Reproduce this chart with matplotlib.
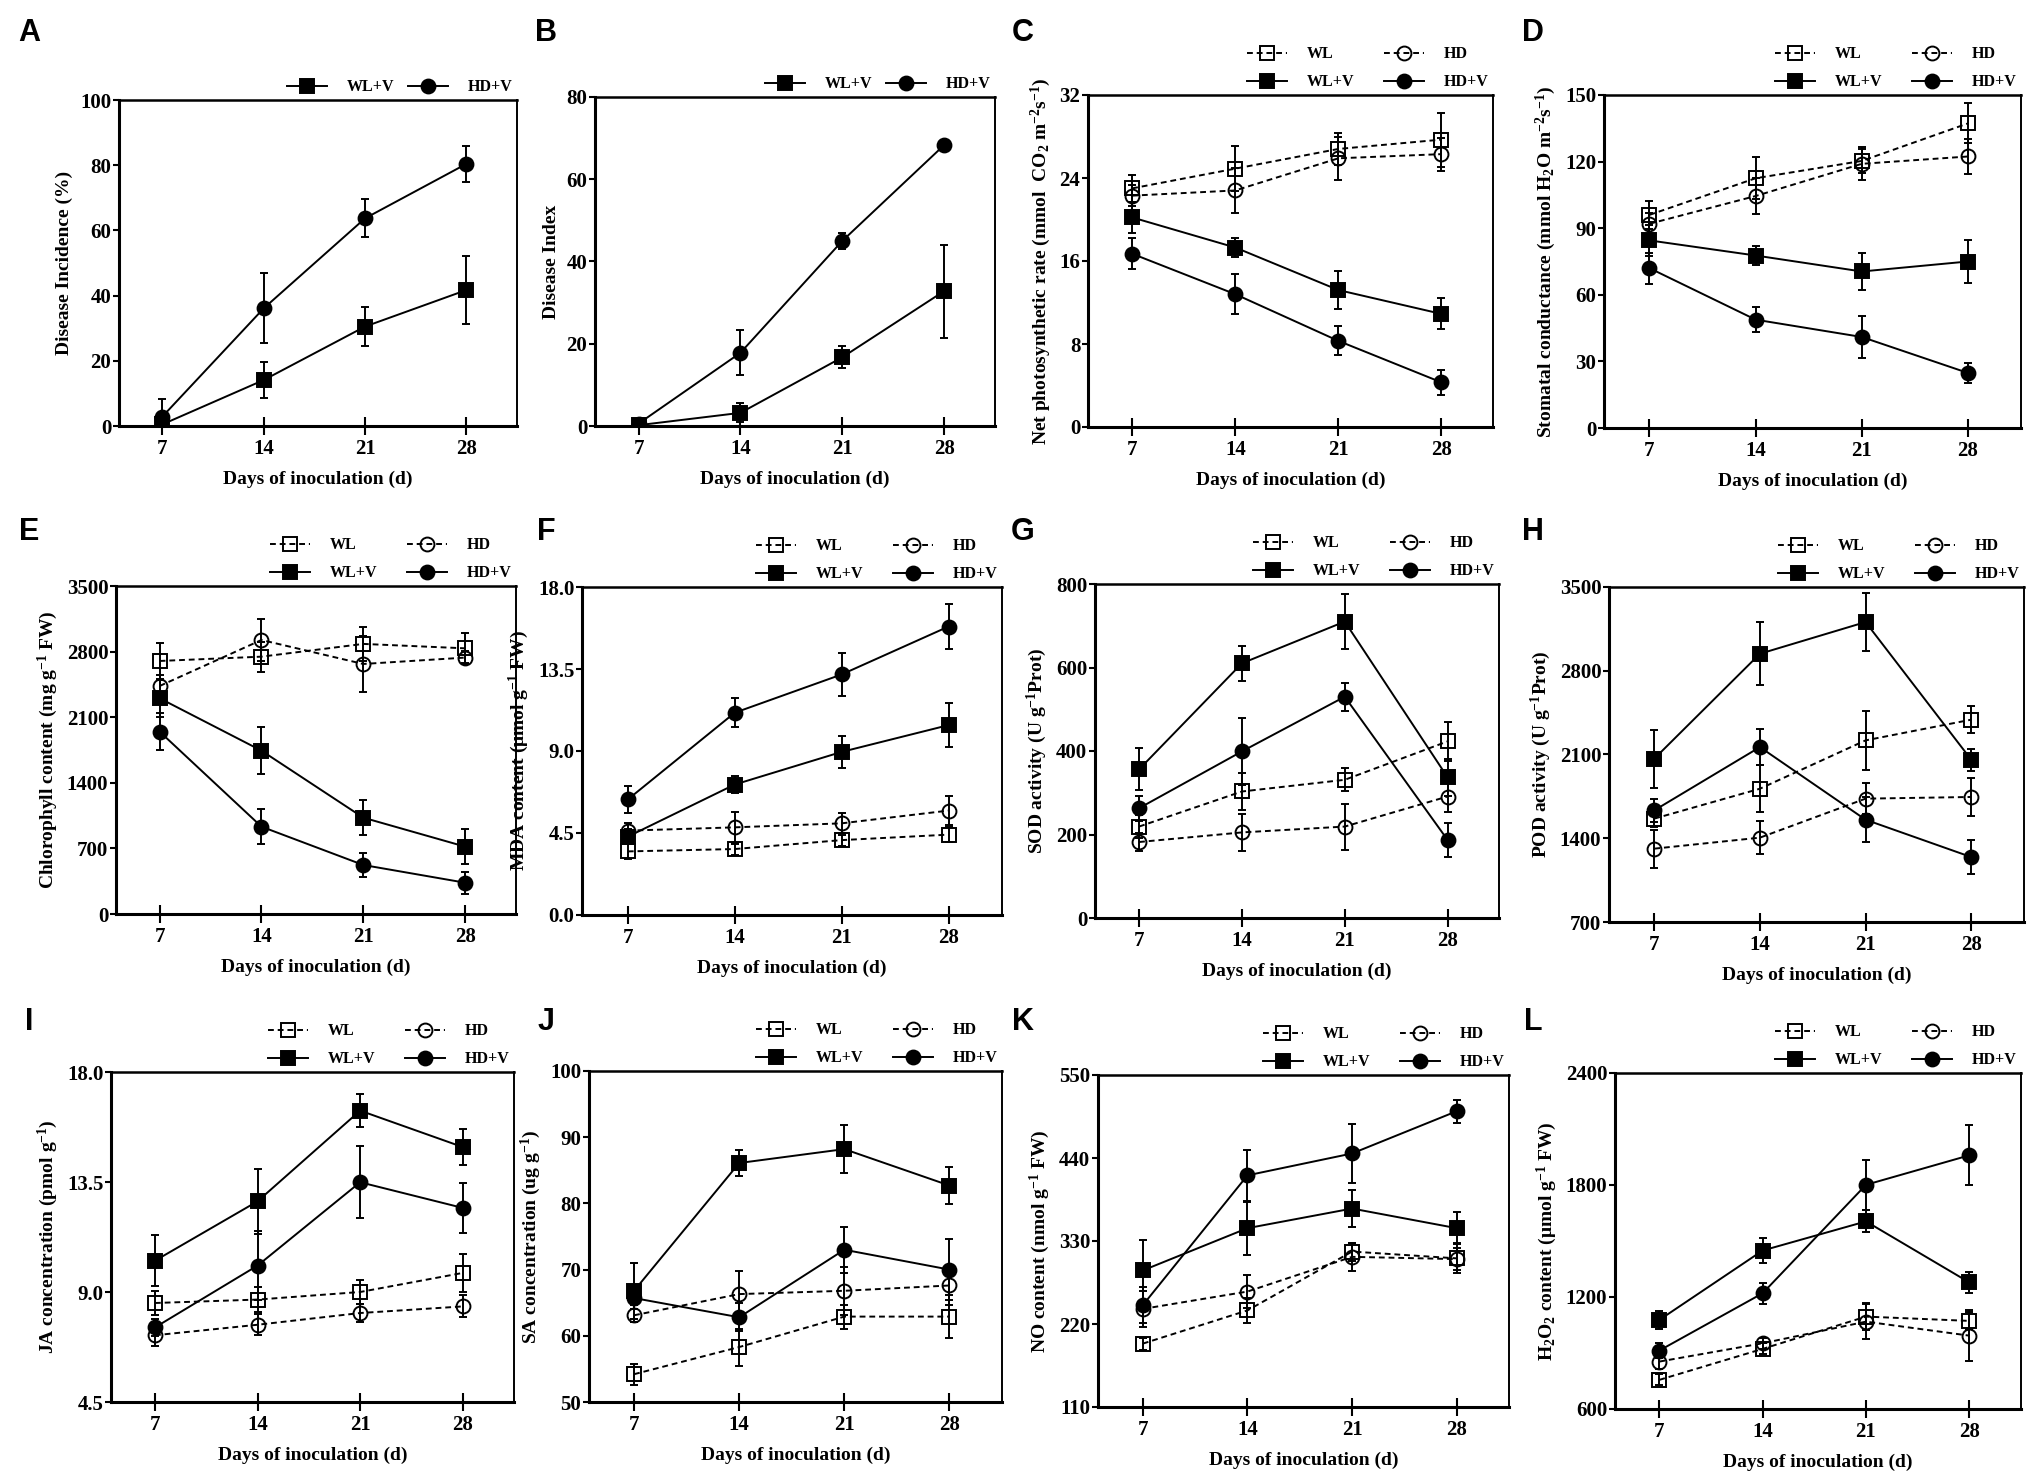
import matplotlib
matplotlib.use("Agg")
import matplotlib.pyplot as plt

plt.rcParams['font.family'] = 'Liberation Serif'
plt.rcParams['font.weight'] = 'bold'
plt.rcParams['axes.labelweight'] = 'bold'
plt.rcParams['mathtext.fontset'] = 'custom'
plt.rcParams['mathtext.rm'] = 'Liberation Serif:bold'
plt.rcParams['mathtext.it'] = 'Liberation Serif:bold'
plt.rcParams['mathtext.bf'] = 'Liberation Serif:bold'

days = [7, 14, 21, 28]

# A - disease incidence (%)
inc_wlv = [0.5, 14.1, 30.5, 41.7]
inc_wlv_sd = [0.5, 5.5, 6.0, 10.5]
inc_hdv = [2.9, 36.1, 63.7, 80.4]
inc_hdv_sd = [5.5, 10.7, 5.8, 5.6]

# B - disease index
idx_wlv = [0.2, 3.2, 16.7, 32.8]
idx_wlv_sd = [0.3, 2.3, 2.7, 11.3]
idx_hdv = [0.6, 17.8, 45.0, 68.3]
idx_hdv_sd = [0.5, 5.5, 2.0, 0.5]

# C - net photosynthetic rate
pn_wl = [23.0, 24.9, 26.8, 27.7]
pn_wl_sd = [1.3, 2.2, 1.5, 2.6]
pn_hd = [22.3, 22.8, 25.9, 26.3]
pn_hd_sd = [1.0, 2.2, 2.1, 1.6]
pn_wlv = [20.2, 17.3, 13.2, 10.9]
pn_wlv_sd = [1.5, 0.9, 1.8, 1.5]
pn_hdv = [16.7, 12.8, 8.3, 4.3]
pn_hdv_sd = [1.5, 1.9, 1.4, 1.2]

# D - stomatal conductance
gs_wl = [96.0, 112.5, 120.3, 137.2]
gs_wl_sd = [6.3, 9.5, 5.4, 9.0]
gs_hd = [92.0, 104.5, 119.0, 122.3]
gs_hd_sd = [5.0, 8.2, 7.5, 7.8]
gs_wlv = [84.5, 77.7, 70.5, 75.0]
gs_wlv_sd = [7.0, 4.5, 8.3, 9.8]
gs_hdv = [72.0, 48.8, 41.0, 24.8]
gs_hdv_sd = [7.0, 5.5, 9.6, 4.5]

# E - chlorophyll
chl_wl = [2700, 2746, 2882, 2835]
chl_wl_sd = [190, 160, 177, 160]
chl_hd = [2433, 2924, 2668, 2736]
chl_hd_sd = [120, 220, 300, 70]
chl_wlv = [2302, 1743, 1028, 719]
chl_wlv_sd = [200, 250, 189, 185]
chl_hdv = [1946, 932, 523, 334]
chl_hdv_sd = [196, 189, 125, 118]

# F - MDA
mda_wl = [3.49, 3.62, 4.11, 4.41]
mda_wl_sd = [0.4, 0.3, 0.3, 0.4]
mda_hd = [4.63, 4.81, 5.03, 5.73]
mda_hd_sd = [0.4, 0.85, 0.55, 0.8]
mda_wlv = [4.3, 7.16, 8.95, 10.42]
mda_wlv_sd = [0.4, 0.45, 0.9, 1.2]
mda_hdv = [6.34, 11.1, 13.2, 15.83]
mda_hdv_sd = [0.73, 0.8, 1.16, 1.25]

# G - SOD
sod_wl = [219, 303, 331, 423]
sod_wl_sd = [28, 45, 28, 46]
sod_hd = [182, 205, 219, 291]
sod_hd_sd = [22, 45, 55, 36]
sod_wlv = [356, 610, 710, 337]
sod_wlv_sd = [50, 42, 65, 45]
sod_hdv = [263, 399, 530, 187]
sod_hdv_sd = [30, 80, 34, 40]

# H - POD
pod_wl = [1564, 1814, 2218, 2391]
pod_wl_sd = [70, 195, 245, 111]
pod_hd = [1313, 1405, 1731, 1745]
pod_hd_sd = [160, 136, 131, 161]
pod_wlv = [2065, 2942, 3207, 2057]
pod_wlv_sd = [242, 265, 242, 92]
pod_hdv = [1633, 2162, 1555, 1243]
pod_hdv_sd = [98, 153, 187, 145]

# I - JA
ja_wl = [8.55, 8.69, 9.0, 9.78]
ja_wl_sd = [0.5, 0.5, 0.5, 0.77]
ja_hd = [7.23, 7.66, 8.14, 8.41]
ja_hd_sd = [0.45, 0.43, 0.35, 0.45]
ja_wlv = [10.28, 12.71, 16.42, 14.93]
ja_wlv_sd = [1.04, 1.34, 0.68, 0.75]
ja_hdv = [7.55, 10.08, 13.49, 12.44]
ja_hdv_sd = [0.35, 1.4, 1.47, 1.02]

# J - SA
sa_wl = [54.2, 58.3, 62.9, 62.9]
sa_wl_sd = [1.6, 2.8, 1.8, 3.3]
sa_hd = [63.1, 66.3, 66.8, 67.6]
sa_hd_sd = [1.0, 3.5, 3.6, 3.0]
sa_wlv = [66.8, 86.1, 88.2, 82.7]
sa_wlv_sd = [4.2, 2.0, 3.6, 2.8]
sa_hdv = [65.7, 62.8, 73.0, 70.0]
sa_hdv_sd = [1.0, 2.1, 3.5, 4.6]

# K - NO
no_wl = [194, 238, 316, 307]
no_wl_sd = [8, 17, 12, 20]
no_hd = [240, 263, 309, 306]
no_hd_sd = [24, 22, 19, 15]
no_wlv = [291, 347, 373, 347]
no_wlv_sd = [40, 35, 24, 21]
no_hdv = [245, 417, 446, 502]
no_hdv_sd = [24, 34, 39, 15]

# L - H2O2
h2o2_wl = [756, 922, 1095, 1072]
h2o2_wl_sd = [30, 30, 72, 46]
h2o2_hd = [854, 952, 1068, 993]
h2o2_hd_sd = [40, 30, 93, 136]
h2o2_wlv = [1077, 1449, 1605, 1278]
h2o2_wlv_sd = [48, 66, 59, 55]
h2o2_hdv = [913, 1220, 1801, 1959]
h2o2_hdv_sd = [40, 57, 134, 161]

yticks_a = [0, 20, 40, 60, 80, 100]
yticks_b = [0, 20, 40, 60, 80]
yticks_c = [0, 8, 16, 24, 32]
yticks_d = [0, 30, 60, 90, 120, 150]
yticks_e = [0, 700, 1400, 2100, 2800, 3500]
yticks_f = [0, 4.5, 9.0, 13.5, 18.0]
yticks_g = [0, 200, 400, 600, 800]
yticks_h = [700, 1400, 2100, 2800, 3500]
yticks_i = [4.5, 9.0, 13.5, 18.0]
yticks_j = [50, 60, 70, 80, 90, 100]
yticks_k = [110, 220, 330, 440, 550]
yticks_l = [600, 1200, 1800, 2400]

W, H = 2033, 1471
fig = plt.figure(figsize=(W / 100, H / 100), dpi=100)

styles = {
    'WL': dict(marker='s', mfc='none', ls=(0, (3, 2))),
    'HD': dict(marker='o', mfc='none', ls=(0, (3, 2))),
    'WL+V': dict(marker='s', mfc='black', ls='-'),
    'HD+V': dict(marker='o', mfc='black', ls='-'),
}

sup1 = r'$^{-1}$'
panels = [
    # letter, box (l, t, r, b) px, ylabel, yticks, fmt, series
    ('A', (119, 100, 517, 426), 'Disease Incidence (%)', yticks_a, '%d',
     [('WL+V', inc_wlv, inc_wlv_sd), ('HD+V', inc_hdv, inc_hdv_sd)]),
    ('B', (595, 97, 995, 426), 'Disease Index', yticks_b, '%d',
     [('WL+V', idx_wlv, idx_wlv_sd), ('HD+V', idx_hdv, idx_hdv_sd)]),
    ('C', (1088, 95, 1493, 427),
     r'Net photosynthetic rate (mmol  CO$_2$ m$^{-2}$s$^{-1}$)', yticks_c, '%d',
     [('WL', pn_wl, pn_wl_sd), ('WL+V', pn_wlv, pn_wlv_sd),
      ('HD', pn_hd, pn_hd_sd), ('HD+V', pn_hdv, pn_hdv_sd)]),
    ('D', (1604, 95, 2021, 428),
     r'Stomatal conductance (mmol H$_2$O m$^{-2}$s$^{-1}$)', yticks_d, '%d',
     [('WL', gs_wl, gs_wl_sd), ('WL+V', gs_wlv, gs_wlv_sd),
      ('HD', gs_hd, gs_hd_sd), ('HD+V', gs_hdv, gs_hdv_sd)]),
    ('E', (116, 586, 516, 914), 'Chlorophyll content (mg g' + sup1 + ' FW)', yticks_e, '%d',
     [('WL', chl_wl, chl_wl_sd), ('WL+V', chl_wlv, chl_wlv_sd),
      ('HD', chl_hd, chl_hd_sd), ('HD+V', chl_hdv, chl_hdv_sd)]),
    ('F', (582, 587, 1002, 915), 'MDA content (μmol g' + sup1 + ' FW)', yticks_f, '%.1f',
     [('WL', mda_wl, mda_wl_sd), ('WL+V', mda_wlv, mda_wlv_sd),
      ('HD', mda_hd, mda_hd_sd), ('HD+V', mda_hdv, mda_hdv_sd)]),
    ('G', (1095, 584, 1499, 918), 'SOD activity (U g' + sup1 + 'Prot)', yticks_g, '%d',
     [('WL', sod_wl, sod_wl_sd), ('WL+V', sod_wlv, sod_wlv_sd),
      ('HD', sod_hd, sod_hd_sd), ('HD+V', sod_hdv, sod_hdv_sd)]),
    ('H', (1609, 587, 2024, 922), 'POD activity (U g' + sup1 + 'Prot)', yticks_h, '%d',
     [('WL', pod_wl, pod_wl_sd), ('WL+V', pod_wlv, pod_wlv_sd),
      ('HD', pod_hd, pod_hd_sd), ('HD+V', pod_hdv, pod_hdv_sd)]),
    ('I', (111, 1072, 514, 1402), 'JA concentration (pmol g' + sup1 + ')', yticks_i, '%.1f',
     [('WL', ja_wl, ja_wl_sd), ('WL+V', ja_wlv, ja_wlv_sd),
      ('HD', ja_hd, ja_hd_sd), ('HD+V', ja_hdv, ja_hdv_sd)]),
    ('J', (589, 1071, 1002, 1402), 'SA concentration (ug g' + sup1 + ')', yticks_j, '%d',
     [('WL', sa_wl, sa_wl_sd), ('WL+V', sa_wlv, sa_wlv_sd),
      ('HD', sa_hd, sa_hd_sd), ('HD+V', sa_hdv, sa_hdv_sd)]),
    ('K', (1098, 1075, 1509, 1407), 'NO content (nmol g' + sup1 + ' FW)', yticks_k, '%d',
     [('WL', no_wl, no_wl_sd), ('WL+V', no_wlv, no_wlv_sd),
      ('HD', no_hd, no_hd_sd), ('HD+V', no_hdv, no_hdv_sd)]),
    ('L', (1615, 1073, 2021, 1409),
     r'H$_2$O$_2$ content (μmol g$^{-1}$ FW)', yticks_l, '%d',
     [('WL', h2o2_wl, h2o2_wl_sd), ('WL+V', h2o2_wlv, h2o2_wlv_sd),
      ('HD', h2o2_hd, h2o2_hd_sd), ('HD+V', h2o2_hdv, h2o2_hdv_sd)]),
]

letter_x = [29, 546, 1023, 1533]
letter_y = [33, 532, 1022]

for i, (letter, box, ylabel, yt, fmt, series) in enumerate(panels):
    l, t, r, b = box
    ax = fig.add_axes([l / W, 1 - b / H, (r - l) / W, (b - t) / H])
    for name, vals, sd in series:
        st = styles[name]
        ax.errorbar(days, vals, yerr=sd, fmt='none', ecolor='black',
                    elinewidth=1.4, capsize=3, capthick=1.4, zorder=2)
        ax.plot(days, vals, color='black', lw=1.4, ls=st['ls'], marker=st['marker'],
                ms=10, mfc=st['mfc'], mec='black', mew=1.4, label=name, zorder=3)
    ax.set_xlim(4, 31.5)
    ax.set_ylim(yt[0], yt[-1])
    ax.set_xticks(days)
    ax.set_xticklabels([str(d) for d in days], fontweight='bold')
    ax.set_yticks(yt)
    ax.set_yticklabels([fmt % v for v in yt], fontweight='bold')
    ax.tick_params(axis='x', direction='inout', length=13, width=1.5, pad=3, labelsize=15)
    ax.tick_params(axis='y', direction='out', length=4, width=1.5, pad=1.5, labelsize=15)
    ax.spines['left'].set_linewidth(2.2)
    ax.spines['bottom'].set_linewidth(2.2)
    ax.spines['top'].set_linewidth(1.8)
    ax.spines['right'].set_linewidth(1.4)
    ax.set_xlabel('Days of inoculation (d)', fontsize=14, fontweight='bold', labelpad=8)
    ax.set_ylabel(ylabel, fontsize=14, fontweight='bold', labelpad=5)
    colsp = 0.9 if len(series) == 2 else 1.9
    ax.legend(ncol=2, loc='lower right', bbox_to_anchor=(1.0, 1.0), frameon=False,
              prop={'size': 11.5, 'weight': 'bold'}, handlelength=2.5,
              handletextpad=1.2, columnspacing=colsp,
              labelspacing=0.75, borderaxespad=0, borderpad=0.3)
    fig.text(letter_x[i % 4] / W, 1 - letter_y[i // 4] / H, letter,
             family='Liberation Sans', fontweight='bold', fontsize=22,
             ha='center', va='center')

fig.savefig('out.png', dpi=100)
